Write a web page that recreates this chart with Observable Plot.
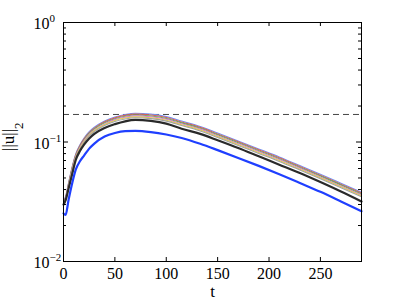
<!DOCTYPE html>
<html><head><meta charset="utf-8">
<script src="https://cdn.jsdelivr.net/npm/d3@7"></script>
<script src="https://cdn.jsdelivr.net/npm/@observablehq/plot@0.6"></script>
<style>body{margin:0;background:#fff;} svg text{font-family:"Liberation Serif", serif !important;}</style>
</head><body><div id="chart"></div>
<script>
const t = [0, 2, 5, 8, 12, 16, 20, 25, 30, 40, 50, 60, 70, 85, 100, 115, 133, 150, 170, 190, 210, 230, 250, 270, 290];
const lineLightBlue = [0.032, 0.035, 0.046, 0.060, 0.080, 0.095, 0.108, 0.122, 0.133, 0.150, 0.162, 0.170, 0.174, 0.171, 0.163, 0.1496, 0.1349, 0.1189, 0.1021, 0.0875, 0.0750, 0.0635, 0.0537, 0.0452, 0.0380];
const lineRed = [0.0315, 0.0344, 0.0452, 0.0590, 0.0786, 0.0934, 0.1062, 0.1199, 0.1307, 0.1475, 0.1592, 0.1671, 0.1710, 0.1681, 0.1602, 0.1471, 0.1326, 0.1169, 0.1004, 0.0860, 0.0737, 0.0624, 0.0528, 0.0444, 0.0374];
const lineGreen = [0.0309, 0.0338, 0.0444, 0.0580, 0.0773, 0.0918, 0.1043, 0.1179, 0.1285, 0.1449, 0.1565, 0.1642, 0.1681, 0.1652, 0.1575, 0.1445, 0.1303, 0.1149, 0.0986, 0.0845, 0.0725, 0.0613, 0.0519, 0.0437, 0.0367];
const lineMagenta = [0.0304, 0.0333, 0.0437, 0.0570, 0.0760, 0.0903, 0.1026, 0.1159, 0.1264, 0.1425, 0.1539, 0.1615, 0.1653, 0.1625, 0.1549, 0.1421, 0.1282, 0.1130, 0.0970, 0.0831, 0.0713, 0.0603, 0.0510, 0.0429, 0.0361];
const lineYellow = [0.0299, 0.0327, 0.0429, 0.0560, 0.0746, 0.0886, 0.1008, 0.1138, 0.1241, 0.1400, 0.1511, 0.1586, 0.1623, 0.1595, 0.1521, 0.1396, 0.1259, 0.1109, 0.0953, 0.0816, 0.0700, 0.0592, 0.0501, 0.0422, 0.0355];
const lineGray = [0.0293, 0.0321, 0.0422, 0.0550, 0.0734, 0.0871, 0.0990, 0.1119, 0.1220, 0.1376, 0.1486, 0.1559, 0.1596, 0.1568, 0.1495, 0.1372, 0.1237, 0.1090, 0.0936, 0.0802, 0.0688, 0.0582, 0.0492, 0.0414, 0.0348];
const lineBlack = [0.030, 0.0324, 0.041, 0.052, 0.071, 0.084, 0.095, 0.107, 0.117, 0.131, 0.141, 0.149, 0.153, 0.150, 0.1425, 0.129, 0.117, 0.1035, 0.0891, 0.0759, 0.0646, 0.0550, 0.0462, 0.0385, 0.0318];
const lineBlue = [0.0253, 0.0245, 0.033, 0.0435, 0.059, 0.069, 0.077, 0.088, 0.097, 0.111, 0.119, 0.1232, 0.1237, 0.121, 0.1155, 0.108, 0.0966, 0.0855, 0.0736, 0.0631, 0.0537, 0.0454, 0.0383, 0.0318, 0.0263];
const threshold = 0.17;
const xTicks = [0, 50, 100, 150, 200, 250];
const yTicks = [0.01, 0.1, 1];
const yTickExp = ["\u22122", "\u22121", "0"];
const yMinor = [0.02, 0.03, 0.04, 0.05, 0.06, 0.07, 0.08, 0.09, 0.2, 0.3, 0.4, 0.5, 0.6, 0.7, 0.8, 0.9];
const xLabel = "t";
const yLabel = "||u||";
const yLabelSub = "2";

const series = [
  {values: lineLightBlue, color: "#7393f0", width: 1.1},
  {values: lineRed, color: "#e05a5a", width: 1.1},
  {values: lineGreen, color: "#5ab45a", width: 1.1},
  {values: lineMagenta, color: "#d877d8", width: 1.1},
  {values: lineYellow, color: "#e2d24a", width: 1.1},
  {values: lineGray, color: "#a0a0a0", width: 1.1},
  {values: lineBlack, color: "#2a2a2a", width: 2.2},
  {values: lineBlue, color: "#1f3fff", width: 2.2}
];

const W = 399, H = 300, mL = 63, mR = 38, mT = 22, mB = 39;
const fw = W - mL - mR, fh = H - mT - mB;
const serif = "Liberation Serif";

const lineMarks = series.map(s => Plot.line(t.map((x, i) => ({t: x, v: s.values[i]})), {
  x: "t", y: "v", stroke: s.color, strokeWidth: s.width, curve: "monotone-x"
}));

const plot = Plot.plot({
  width: W, height: H,
  marginLeft: mL, marginRight: mR, marginTop: mT, marginBottom: mB,
  style: {fontFamily: serif, fontSize: "16px", background: "#fff", color: "#000"},
  x: {domain: [0, 290], axis: null},
  y: {type: "log", domain: [0.01, 1], axis: null},
  marks: [
    Plot.ruleY([threshold], {stroke: "#444", strokeWidth: 1, strokeDasharray: "6,4"}),
    ...lineMarks,
    Plot.frame({stroke: "#000", strokeWidth: 1}),
    Plot.tickY(yTicks, {y: d => d, stroke: "#000", insetRight: fw - 5}),
    Plot.tickY(yTicks, {y: d => d, stroke: "#000", insetLeft: fw - 5}),
    Plot.tickY(yMinor, {y: d => d, stroke: "#000", insetRight: fw - 3}),
    Plot.tickY(yMinor, {y: d => d, stroke: "#000", insetLeft: fw - 3}),
    Plot.tickX(xTicks, {x: d => d, stroke: "#000", insetTop: fh - 4}),
    Plot.tickX(xTicks, {x: d => d, stroke: "#000", insetBottom: fh - 4}),
    Plot.text(xTicks, {x: d => d, text: d => String(d), frameAnchor: "bottom", dy: 12, fontSize: 16, fontFamily: serif, lineAnchor: "middle"}),
    Plot.text(yTicks, {y: d => d, text: () => "10", frameAnchor: "left", dx: -30, dy: 1.5, textAnchor: "start", fontSize: 16, fontFamily: serif, lineAnchor: "middle"}),
    Plot.text([xLabel], {text: d => d, frameAnchor: "bottom", dy: 30, fontSize: 17, fontFamily: serif, lineAnchor: "middle"}),
    Plot.text([yLabel], {text: d => d, frameAnchor: "left", dx: -49.5, dy: 9, rotate: -90, textAnchor: "start", lineAnchor: "bottom", fontSize: 17, fontFamily: serif})
  ]
});

const svg = d3.select(plot);
let k = 0;
svg.selectAll("text").each(function() {
  const el = d3.select(this);
  const txt = this.textContent;
  if (txt === "10") {
    el.append("tspan").attr("dy", -7).attr("font-size", 11).text(yTickExp[k++]);
  } else if (txt === yLabel) {
    el.append("tspan").attr("dy", 9).attr("font-size", 13).text(yLabelSub);
  }
});

document.getElementById("chart").appendChild(plot);
</script>
</body></html>
